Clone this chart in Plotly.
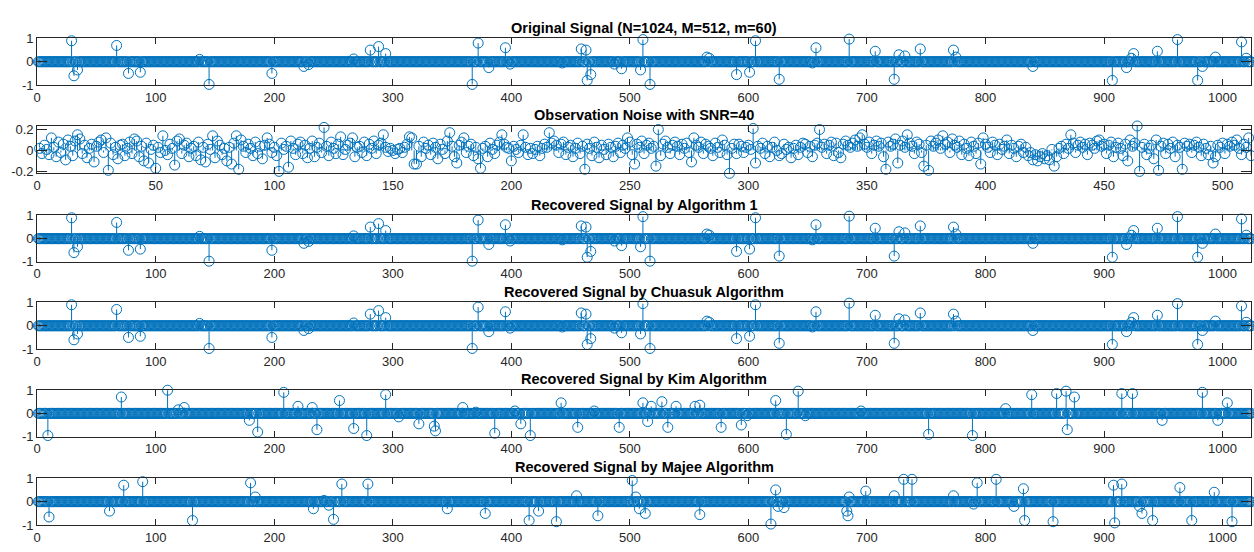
import numpy as np
import plotly.graph_objects as go

# ---------------- data ----------------
N = 1024
M = 512

titles = [
    "Original Signal (N=1024, M=512, m=60)",
    "Observation Noise with SNR=40",
    "Recovered Signal by Algorithm 1",
    "Recovered Signal by Chuasuk Algorithm",
    "Recovered Signal by Kim Algorithm",
    "Recovered Signal by Majee Algorithm",
]

orig_idx = [29, 31, 34, 67, 77, 87, 137, 145, 198, 225, 229, 267, 281, 288, 294,
            367, 372, 381, 395, 399, 443, 459, 463, 464, 467, 487, 493, 509, 511,
            517, 565, 567, 590, 601, 606, 626, 654, 657, 685, 707, 723, 727, 732,
            745, 773, 775, 840, 907, 919, 923, 925, 945, 962, 979, 983, 994, 1016, 1020]
orig_val = [0.90, -0.60, -0.35, 0.70, -0.50, -0.45, 0.10, -0.97, -0.50, -0.20, -0.12,
            0.12, 0.50, 0.65, 0.35, -0.97, 0.80, -0.25, 0.60, -0.10, -0.05, 0.55, 0.50,
            -0.80, -0.55, -0.10, -0.30, -0.35, 0.95, -0.97, 0.20, 0.15, -0.55, -0.45,
            0.90, -0.75, -0.05, 0.60, 0.97, 0.45, -0.75, 0.30, 0.25, 0.55, 0.50, 0.20,
            -0.20, -0.80, -0.25, 0.15, 0.35, 0.45, 0.95, -0.80, -0.20, 0.20, 0.85, 0.15]

alg1_idx = orig_idx
alg1_val = orig_val

chua_idx = orig_idx
chua_val = orig_val

kim_idx = [9, 71, 110, 119, 124, 179, 186, 208, 220, 232, 236, 255, 267, 278, 294,
           305, 322, 335, 336, 359, 370, 386, 403, 408, 416, 442, 456, 470, 491, 511,
           515, 518, 527, 532, 539, 555, 559, 577, 594, 599, 623, 632, 642, 648, 695,
           752, 789, 817, 839, 860, 868, 869, 875, 915, 924, 949, 983, 996, 1004]
kim_val = [-0.95, 0.70, 0.99, 0.15, 0.25, -0.30, -0.80, 0.90, 0.30, 0.25, -0.70, 0.55,
           -0.65, -0.95, 0.80, -0.15, -0.45, -0.55, -0.75, 0.25, 0.05, -0.85, 0.10,
           -0.45, -0.95, 0.45, -0.60, 0.10, -0.60, 0.45, -0.35, 0.30, 0.50, -0.60, 0.30,
           0.30, 0.35, -0.60, -0.50, -0.10, 0.55, -0.90, 0.95, -0.10, 0.10, -0.90, -0.95,
           0.20, 0.80, 0.85, 0.95, -0.70, 0.70, 0.85, 0.85, -0.30, 0.90, -0.30, 0.45]

majee_idx = [10, 61, 73, 89, 131, 180, 184, 233, 242, 246, 250, 257, 279, 346, 378,
             415, 423, 438, 455, 473, 502, 505, 508, 513, 559, 619, 623, 625, 630, 683,
             684, 685, 699, 723, 731, 738, 773, 790, 793, 809, 824, 832, 833, 857, 908,
             909, 915, 930, 932, 941, 964, 974, 993, 1008]
majee_val = [-0.65, -0.40, 0.70, 0.85, -0.80, 0.80, 0.20, -0.30, 0.05, -0.15, -0.75,
             0.75, 0.75, -0.30, -0.50, -0.80, -0.40, -0.85, 0.25, -0.60, 0.90, 0.20,
             -0.30, -0.50, -0.55, -0.95, 0.50, -0.20, -0.25, -0.40, -0.60, 0.20, 0.45,
             0.25, 0.95, 0.95, 0.25, -0.10, 0.80, 0.95, -0.20, 0.55, -0.80, -0.85, 0.70,
             -0.90, 0.75, -0.20, -0.50, -0.80, 0.60, -0.80, 0.40, -0.85]

noise = [
    0.02, -0.03, 0.05, 0.01, -0.04, 0.12, 0.03, -0.06, 0.08, -0.02, 0.06, -0.09, 0.10, 0.04, -0.05, 0.09,
    0.15, 0.11, -0.03, 0.05, -0.07, 0.02, 0.06, -0.11, 0.04, 0.08, 0.10, -0.02, 0.12, -0.19, 0.07, -0.04,
    0.03, -0.08, 0.05, 0.06, -0.05, 0.02, 0.08, -0.03, 0.11, 0.09, -0.06, 0.04, -0.10, 0.07, -0.12, 0.01,
    0.05, -0.17, 0.03, -0.02, 0.14, 0.00, -0.04, 0.06, 0.02, -0.14, 0.09, 0.11, -0.03, 0.05, 0.07, -0.06,
    0.02, 0.04, -0.05, 0.08, -0.09, 0.03, -0.11, 0.06, 0.01, 0.14, -0.07, 0.09, 0.05, -0.04, 0.02, -0.10,
    0.03, -0.13, 0.07, 0.14, -0.18, 0.10, 0.04, -0.02, 0.06, 0.02, -0.05, 0.08, -0.03, 0.04, -0.08, 0.05,
    0.12, 0.06, -0.02, 0.03, -0.05, -0.20, 0.07, 0.01, 0.04, -0.16, 0.09, 0.02, -0.04, 0.06, 0.08, -0.03,
    0.05, -0.07, 0.02, 0.09, -0.06, 0.03, 0.07, -0.02, 0.22, 0.04, -0.05, 0.08, 0.02, -0.03, 0.06, 0.13,
    -0.04, 0.01, 0.05, 0.07, 0.12, -0.06, 0.03, 0.04, -0.02, 0.08, -0.05, 0.06, 0.02, 0.09, -0.03, 0.05,
    0.07, 0.15, 0.03, -0.01, 0.02, 0.00, -0.03, 0.01, 0.02, -0.02, 0.03, 0.06, 0.13, 0.12, -0.13, -0.13,
    0.04, -0.06, 0.08, 0.02, 0.05, -0.04, 0.07, 0.03, -0.08, 0.06, 0.01, -0.03, 0.09, 0.17, 0.04, -0.06,
    -0.12, 0.05, 0.08, 0.12, -0.02, 0.04, 0.06, -0.05, 0.03, -0.08, -0.17, 0.02, 0.04, -0.06, 0.07, 0.01,
    -0.03, 0.05, 0.08, 0.15, 0.06, 0.03, 0.02, -0.10, 0.04, 0.01, -0.02, 0.05, 0.15, 0.03, -0.04, 0.02,
    -0.03, 0.01, 0.04, -0.05, 0.02, 0.06, 0.03, 0.17, 0.07, 0.09, 0.05, -0.02, 0.06, 0.08, -0.04, 0.03,
    0.05, -0.06, 0.02, 0.07, -0.03, 0.04, -0.18, 0.06, 0.02, -0.05, 0.08, 0.03, -0.07, 0.05, 0.01, -0.04,
    0.06, 0.03, -0.06, 0.04, 0.07, -0.02, 0.05, 0.02, 0.12, 0.08, -0.04, -0.13, 0.06, 0.03, 0.09, -0.03,
    0.05, 0.07, 0.02, 0.04, -0.15, 0.20, -0.05, 0.06, 0.09, 0.03, -0.03, 0.05, 0.08, 0.04, -0.04, 0.06,
    0.02, 0.07, -0.02, -0.11, 0.12, 0.05, 0.03, 0.08, -0.03, 0.06, 0.04, 0.02, -0.05, 0.07, 0.03, -0.02,
    0.10, 0.05, -0.04, -0.219, 0.02, 0.06, -0.03, 0.06, 0.04, -0.02, 0.03, 0.05, 0.01, 0.21, -0.12, 0.04,
    0.02, 0.07, -0.03, 0.04, -0.06, 0.03, 0.08, 0.00, -0.05, -0.03, 0.06, 0.01, 0.03, -0.07, 0.02, 0.05,
    -0.04, 0.03, 0.07, 0.06, -0.02, 0.04, -0.06, 0.05, 0.07, 0.20, 0.03, 0.06, -0.03, 0.05, 0.08, -0.05,
    0.07, -0.02, -0.07, 0.06, 0.09, 0.05, 0.03, 0.07, 0.10, 0.04, 0.12, 0.15, 0.06, 0.03, 0.08, -0.03,
    0.05, 0.09, 0.04, 0.07, -0.06, -0.18, 0.08, 0.04, 0.06, 0.11, -0.12, 0.05, 0.09, 0.03, 0.15, 0.07,
    0.04, -0.03, 0.08, 0.06, -0.02, -0.15, 0.05, -0.19, 0.09, 0.04, 0.07, 0.10, 0.02, 0.14, 0.06, 0.08,
    -0.02, 0.11, 0.05, 0.03, 0.09, -0.04, 0.06, 0.02, -0.05, 0.08, 0.04, -0.03, 0.07, -0.13, 0.12, 0.06,
    0.03, -0.02, 0.08, 0.05, -0.04, 0.06, 0.01, 0.04, 0.10, -0.03, 0.05, 0.02, -0.06, 0.04, 0.06, -0.02,
    0.03, -0.05, -0.02, -0.09, -0.04, -0.10, -0.06, -0.03, -0.08, -0.05, -0.09, 0.01, -0.15, -0.06, 0.02, 0.04,
    -0.03, 0.06, 0.02, 0.15, 0.07, -0.02, 0.05, 0.08, 0.03, 0.06, -0.04, 0.07, 0.05, 0.02, 0.09, 0.10,
    0.04, 0.06, -0.03, 0.05, 0.08, -0.06, 0.03, 0.07, 0.02, -0.05, 0.06, -0.10, 0.10, 0.04, 0.07, 0.234,
    -0.20, 0.03, 0.06, -0.04, 0.02, 0.05, -0.08, 0.10, -0.19, 0.04, 0.07, -0.03, 0.06, 0.02, 0.08, -0.06,
    0.05, 0.03, -0.18, 0.07, 0.04, 0.06, -0.02, 0.05, 0.08, 0.03, -0.05, 0.06, 0.02, -0.04, 0.04, -0.12,
    -0.06, 0.05, 0.03, 0.07, -0.03, 0.06, 0.04, 0.08, 0.05, 0.10, 0.02, -0.04, 0.06, 0.03, 0.12, -0.05,
]

sig_xticks = [0, 100, 200, 300, 400, 500, 600, 700, 800, 900, 1000]
noise_xticks = [0, 50, 100, 150, 200, 250, 300, 350, 400, 450, 500]
sig_yticks = [-1, 0, 1]
sig_yticklabels = ["-1", "0", "1"]
noise_yticks = [-0.2, 0, 0.2]
noise_yticklabels = ["-0.2", "0", "0.2"]


def sparse_signal(idx, val, n):
    s = np.zeros(n)
    s[np.asarray(idx) - 1] = val
    return s


signals = [
    sparse_signal(orig_idx, orig_val, N),
    np.asarray(noise, dtype=float),
    sparse_signal(alg1_idx, alg1_val, N),
    sparse_signal(chua_idx, chua_val, N),
    sparse_signal(kim_idx, kim_val, N),
    sparse_signal(majee_idx, majee_val, N),
]

# ---------------- layout geometry (pixels) ----------------
W, H = 1254, 552
x_left, x_right = 33.3, 1251
box_tops = [32.3, 122.3, 214.3, 303.7, 393.7, 484.3]
box_bots = [80.3, 171.0, 262.0, 351.7, 441.7, 532.7]

BLUE = "#0072BD"
AX = "#262626"
FONT = "Liberation Sans, Arial, Helvetica, sans-serif"

fig = go.Figure()
layout = dict(
    width=W, height=H, margin=dict(l=0, r=0, t=0, b=0),
    paper_bgcolor="white", plot_bgcolor="white", showlegend=False,
    font=dict(family=FONT, size=13, color=AX),
)
annotations = []

for k, (title, y) in enumerate(zip(titles, signals), start=1):
    n = len(y)
    x = np.arange(1, n + 1)
    is_noise = (k == 2)
    xa = "x" if k == 1 else f"x{k}"
    ya = "y" if k == 1 else f"y{k}"

    sx = np.empty(3 * n, dtype=object)
    sy = np.empty(3 * n, dtype=object)
    sx[0::3] = x
    sx[1::3] = x
    sx[2::3] = None
    sy[0::3] = 0.0
    sy[1::3] = y
    sy[2::3] = None

    fig.add_trace(go.Scatter(x=list(sx), y=list(sy), mode="lines",
                             line=dict(color=BLUE, width=1),
                             xaxis=xa, yaxis=ya, hoverinfo="skip"))
    fig.add_trace(go.Scatter(x=x, y=y, mode="markers",
                             marker=dict(symbol="circle-open", size=10, color=BLUE,
                                         line=dict(width=1, color=BLUE)),
                             cliponaxis=False, xaxis=xa, yaxis=ya, hoverinfo="skip"))

    if is_noise:
        xr = [0, M]
        yr = [-0.219, 0.234]
        xt = noise_xticks
        yt, ytt = noise_yticks, noise_yticklabels
    else:
        xr = [0, N]
        yr = [-1, 1]
        xt = sig_xticks
        yt, ytt = sig_yticks, sig_yticklabels

    top = 1 - box_tops[k - 1] / H
    bot = 1 - box_bots[k - 1] / H
    xkey = "xaxis" if k == 1 else f"xaxis{k}"
    ykey = "yaxis" if k == 1 else f"yaxis{k}"
    layout[xkey] = dict(domain=[x_left / W, x_right / W], range=xr, anchor=ya,
                        tickvals=xt, ticktext=[str(v) for v in xt],
                        showline=True, mirror="ticks", linecolor=AX, linewidth=1,
                        ticks="inside", ticklen=6, tickcolor=AX, tickwidth=1,
                        showgrid=False, zeroline=False,
                        tickfont=dict(family=FONT, size=13, color=AX))
    layout[ykey] = dict(domain=[bot, top], range=yr, anchor=xa,
                        tickvals=yt, ticktext=ytt,
                        showline=True, mirror="ticks", linecolor=AX, linewidth=1,
                        ticks="inside", ticklen=10, tickcolor=AX, tickwidth=1,
                        showgrid=False, zeroline=False,
                        tickfont=dict(family=FONT, size=13, color=AX))
    annotations.append(dict(text=f"<b>{title}</b>", xref="paper", yref="paper",
                            x=(x_left + x_right) / 2 / W,
                            y=1 - (box_tops[k - 1] - 11) / H,
                            xanchor="center", yanchor="middle", showarrow=False,
                            font=dict(family=FONT, size=14.5, color="black")))

layout["annotations"] = annotations
fig.update_layout(**layout)
fig.write_html("out.html")
